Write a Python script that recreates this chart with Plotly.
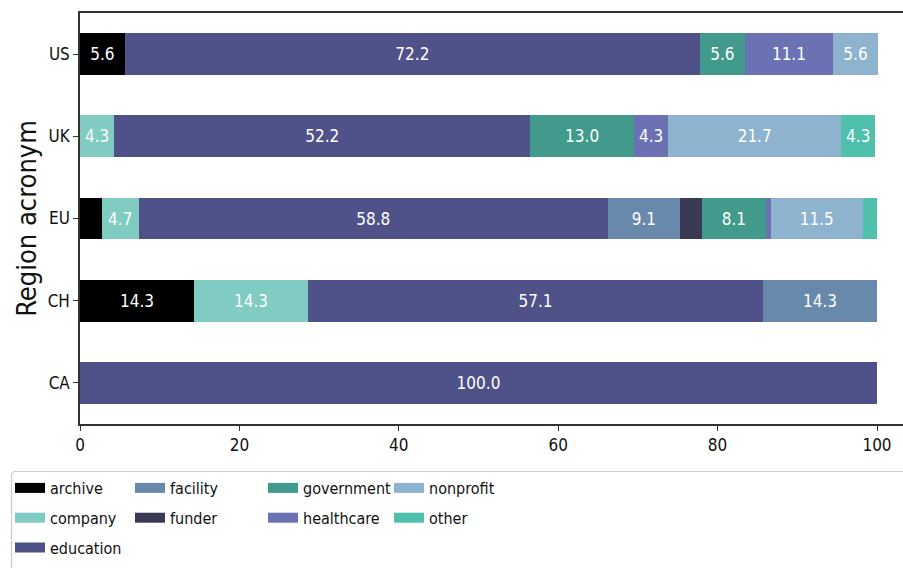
import plotly.graph_objects as go

# Share of organisations by type within each region (percent)
regions = ["CA", "CH", "EU", "UK", "US"]
categories = ["archive", "company", "education", "facility", "funder",
              "government", "healthcare", "nonprofit", "other"]
shares = {
    "archive":    [0.0, 14.3, 2.7, 0.0, 5.6],
    "company":    [0.0, 14.3, 4.7, 4.3, 0.0],
    "education":  [100.0, 57.1, 58.8, 52.2, 72.2],
    "facility":   [0.0, 14.3, 9.1, 0.0, 0.0],
    "funder":     [0.0, 0.0, 2.7, 0.0, 0.0],
    "government": [0.0, 0.0, 8.1, 13.0, 5.6],
    "healthcare": [0.0, 0.0, 0.6, 4.3, 11.1],
    "nonprofit":  [0.0, 0.0, 11.5, 21.7, 5.6],
    "other":      [0.0, 0.0, 1.8, 4.3, 0.0],
}
colors = {
    "archive": "#000000",
    "company": "#80cbc2",
    "education": "#4f5189",
    "facility": "#6889ab",
    "funder": "#3a3a55",
    "government": "#419a8b",
    "healthcare": "#6b72b4",
    "nonprofit": "#8db3cf",
    "other": "#4fc0ab",
}
x_ticks = [0, 20, 40, 60, 80, 100]

FONT = "DejaVu Sans Condensed, Liberation Sans Narrow, sans-serif"

# Legend columns (filled top to bottom, like a 4-column legend)
legend_columns = [
    ["archive", "company", "education"],
    ["facility", "funder"],
    ["government", "healthcare"],
    ["nonprofit", "other"],
]
legend_of = {}
for ci, col in enumerate(legend_columns):
    for cat in col:
        legend_of[cat] = "legend" if ci == 0 else f"legend{ci + 1}"

fig = go.Figure()
for cat in categories:
    vals = shares[cat]
    labels = [f"{v:.1f}" if v >= 3 else "" for v in vals]
    fig.add_trace(go.Bar(
        name=cat,
        y=regions,
        x=vals,
        orientation="h",
        marker=dict(color=colors[cat], line=dict(width=0)),
        text=labels,
        textposition="inside",
        insidetextanchor="middle",
        textangle=0,
        textfont=dict(color="white", size=17, family=FONT),
        showlegend=False,
        hoverinfo="skip",
    ))

# legend entries drawn as wide rectangular swatches
for cat in categories:
    fig.add_trace(go.Scatter(
        name=cat,
        x=[None], y=[None],
        mode="lines",
        line=dict(color=colors[cat], width=15),
        legend=legend_of[cat],
        legendgroup=cat,
        showlegend=True,
        hoverinfo="skip",
    ))

# plot area: x 80..903 px, y 13..424 px in a 903x568 page
W, H = 903, 568
L, R, T, B = 80, 0, 13, 144
pw, ph = W - L - R, H - T - B


def px_x(px):
    return (px - L) / pw


def px_y(py):
    return (H - B - py) / ph


legend_text_x = [50, 170, 303, 429]
legend_common = dict(
    orientation="v",
    yanchor="top",
    xanchor="left",
    bgcolor="rgba(0,0,0,0)",
    borderwidth=0,
    font=dict(family=FONT, size=16, color="#111111"),
    tracegroupgap=6,
    itemwidth=30,
)
layout_legends = {}
for ci, tx in enumerate(legend_text_x):
    key = "legend" if ci == 0 else f"legend{ci + 1}"
    layout_legends[key] = dict(legend_common, x=px_x(tx - 40), y=px_y(471))

fig.update_layout(
    width=W, height=H,
    margin=dict(l=L, r=R, t=T, b=B, autoexpand=False),
    barmode="stack",
    bargap=0.49,
    plot_bgcolor="white",
    paper_bgcolor="white",
    font=dict(family=FONT, size=17, color="#111111"),
    showlegend=True,
    uniformtext=dict(minsize=10, mode="show"),
    **layout_legends,
)
fig.update_xaxes(
    range=[0, pw / 7.97],
    tickvals=x_ticks,
    ticks="outside", ticklen=5, tickwidth=1.2, tickcolor="#333333",
    showline=True, linecolor="#333333", linewidth=1.5, mirror=True,
    showgrid=False, zeroline=False,
    tickfont=dict(size=17, family=FONT),
)
fig.update_yaxes(
    categoryorder="array", categoryarray=regions,
    range=[-0.5, 4.5],
    ticks="outside", ticklen=5, tickwidth=1.2, tickcolor="#333333",
    showline=True, linecolor="#333333", linewidth=1.5, mirror=False,
    showgrid=False, zeroline=False,
    tickfont=dict(size=17, family=FONT),
    title=dict(text="Region acronym", font=dict(size=27, family=FONT), standoff=3),
)

# frame around the legend block (rounded corners, runs off the page edge)
x0, y0 = 11.5, 471.5
x1, y1 = 910, 580
r = 4
fig.add_shape(
    type="path",
    xref="paper", yref="paper",
    path=(f"M {px_x(x0 + r)},{px_y(y0)} L {px_x(x1)},{px_y(y0)} "
          f"L {px_x(x1)},{px_y(y1)} L {px_x(x0)},{px_y(y1)} "
          f"L {px_x(x0)},{px_y(y0 + r)} "
          f"Q {px_x(x0)},{px_y(y0)} {px_x(x0 + r)},{px_y(y0)} Z"),
    line=dict(color="#cccccc", width=1.2),
    fillcolor="rgba(0,0,0,0)",
    layer="below",
)

fig.write_html("out.html")
